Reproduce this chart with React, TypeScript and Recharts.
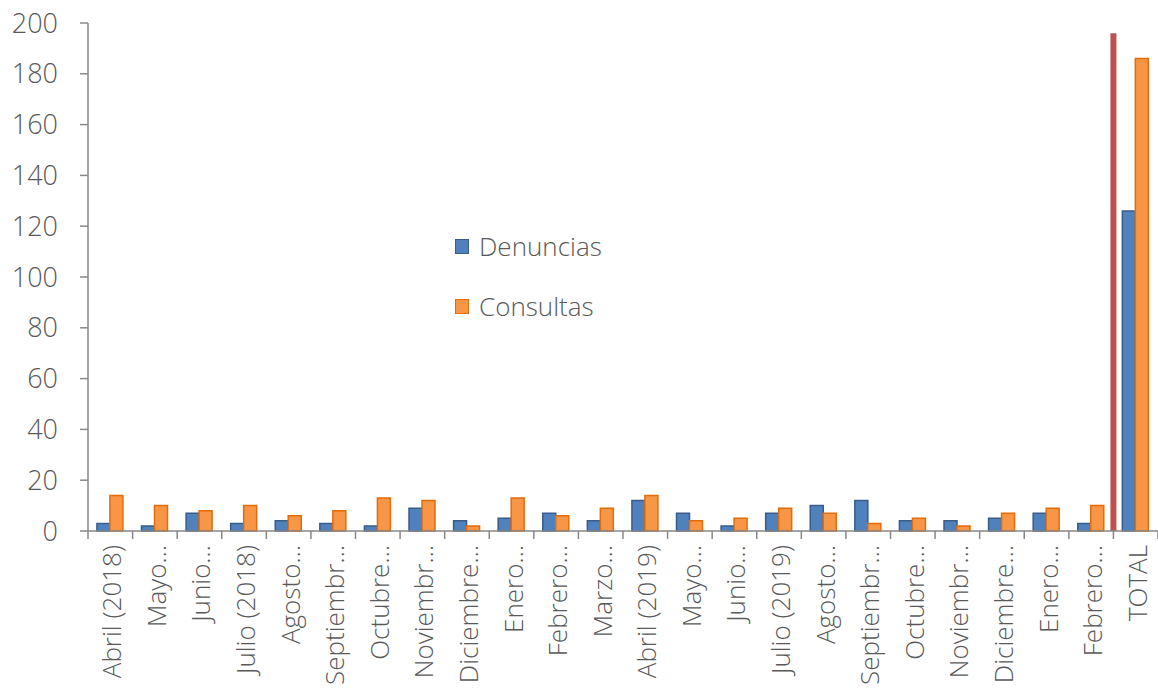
import { BarChart, Bar, XAxis, YAxis, Legend, ReferenceLine } from 'recharts';

const categories = [
  'Abril (2018)', 'Mayo…', 'Junio…', 'Julio (2018)', 'Agosto…', 'Septiembr…', 'Octubre…',
  'Noviembr…', 'Diciembre…', 'Enero…', 'Febrero…', 'Marzo…', 'Abril (2019)', 'Mayo…',
  'Junio…', 'Julio (2019)', 'Agosto…', 'Septiembr…', 'Octubre…', 'Noviembr…', 'Diciembre…',
  'Enero…', 'Febrero…', 'TOTAL',
];
const denuncias = [3, 2, 7, 3, 4, 3, 2, 9, 4, 5, 7, 4, 12, 7, 2, 7, 10, 12, 4, 4, 5, 7, 3, 126];
const consultas = [14, 10, 8, 10, 6, 8, 13, 12, 2, 13, 6, 9, 14, 4, 5, 9, 7, 3, 5, 2, 7, 9, 10, 186];
const yTicks = [0, 20, 40, 60, 80, 100, 120, 140, 160, 180, 200];
const dividerTop = 196;

const data = categories.map((c, i) => ({ key: `${i}`, name: c, denuncias: denuncias[i], consultas: consultas[i] }));

const W = 1158;
const H = 688;
const LEFT = 88;
const BAND = (W - LEFT) / categories.length;
const AXIS = '#898989';
const TEXT = '#595959';
const FONT = '"Open Sans", sans-serif';
const BORDER: Record<string, string> = { denuncias: '#385D8A', consultas: '#E46C0A' };

function XTick(props: any) {
  const { x, y, payload } = props;
  const label = categories[Number(payload.value)];
  const isLast = Number(payload.value) === categories.length - 1;
  return (
    <g>
      <line x1={x - BAND / 2} x2={x - BAND / 2} y1={y - 8} y2={y} stroke={AXIS} strokeWidth={1.5} />
      {isLast && <line x1={x + BAND / 2} x2={x + BAND / 2} y1={y - 8} y2={y} stroke={AXIS} strokeWidth={1.5} />}
      <text
        transform={`translate(${x + 1},${y + 6}) rotate(-90)`}
        textAnchor="end"
        dominantBaseline="central"
        fontSize={26}
        fontWeight={300}
        fill={TEXT}
        fontFamily={FONT}
      >
        {label}
      </text>
    </g>
  );
}

function LegendBox({ payload }: any) {
  const items = [...(payload || [])].sort((a: any) => (a.dataKey === 'denuncias' ? -1 : 1));
  return (
    <div style={{ fontFamily: FONT, fontSize: 26, fontWeight: 300, color: TEXT }}>
      {items.map((it: any) => (
        <div key={it.dataKey} style={{ display: 'flex', alignItems: 'center', height: 60 }}>
          <span
            style={{
              display: 'inline-block',
              width: 12,
              height: 13,
              background: it.color,
              border: `1.5px solid ${BORDER[it.dataKey]}`,
              marginRight: 10,
            }}
          />
          <span>{it.value}</span>
        </div>
      ))}
    </div>
  );
}

export default function App() {
  return (
    <div style={{ position: 'absolute', left: 0, top: 0, background: '#fff' }}>
      <BarChart
        width={W}
        height={H}
        data={data}
        margin={{ top: 23, right: 0, bottom: 0, left: 0 }}
        barCategoryGap="20%"
        barGap={0}
      >
        <XAxis
          dataKey="key"
          interval={0}
          height={157}
          stroke={AXIS}
          strokeWidth={1.5}
          tickLine={false}
          tick={<XTick />}
        />
        <YAxis
          domain={[0, 200]}
          ticks={yTicks}
          width={LEFT}
          stroke={AXIS}
          strokeWidth={1.5}
          tickSize={8}
          tickMargin={22}
          tick={{ fontSize: 27, fill: TEXT, fontFamily: FONT, fontWeight: 300 }}
        />
        <Legend
          layout="vertical"
          verticalAlign="middle"
          align="center"
          content={<LegendBox />}
          wrapperStyle={{ left: 455, top: 216, width: 220 }}
        />
        <Bar dataKey="denuncias" name="Denuncias" fill="#4F81BD" stroke="#385D8A" strokeWidth={1.5} isAnimationActive={false} />
        <Bar dataKey="consultas" name="Consultas" fill="#F79646" stroke="#E46C0A" strokeWidth={1.5} isAnimationActive={false} />
        <ReferenceLine
          segment={[{ x: '23', y: 0 }, { x: '23', y: dividerTop }]}
          position="start"
          stroke="#C0504D"
          strokeWidth={6}
        />
      </BarChart>
    </div>
  );
}
